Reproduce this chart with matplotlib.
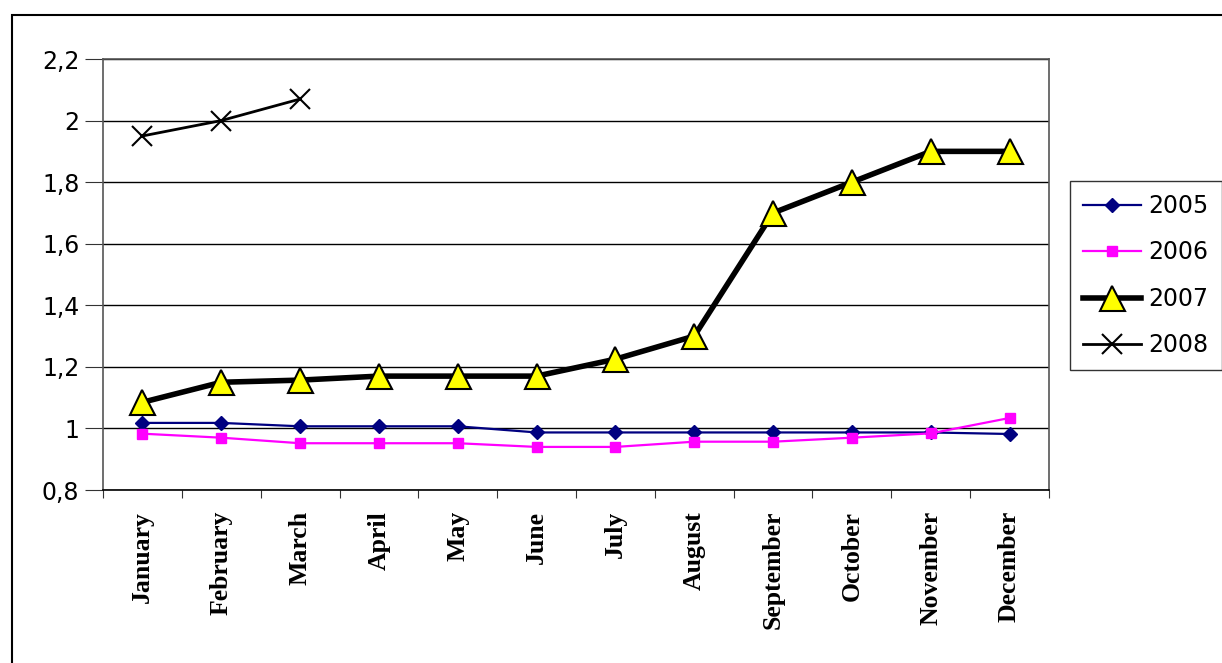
import matplotlib
matplotlib.use("Agg")
import matplotlib.pyplot as plt
from matplotlib.patches import Rectangle

months = ["January", "February", "March", "April", "May", "June", "July",
          "August", "September", "October", "November", "December"]
y2005 = [1.018, 1.018, 1.007, 1.007, 1.007, 0.987, 0.987, 0.987, 0.987, 0.987, 0.987, 0.982]
y2006 = [0.983, 0.970, 0.952, 0.952, 0.952, 0.940, 0.940, 0.957, 0.957, 0.970, 0.984, 1.034]
y2007 = [1.085, 1.150, 1.157, 1.170, 1.170, 1.170, 1.225, 1.300, 1.700, 1.800, 1.900, 1.900]
y2008 = [1.950, 2.000, 2.070]
y_ticks = [0.8, 1.0, 1.2, 1.4, 1.6, 1.8, 2.0, 2.2]
y_tick_labels = ["0,8", "1", "1,2", "1,4", "1,6", "1,8", "2", "2,2"]
title = "Development of average monthly price index (EUR/kg)"

fig = plt.figure(figsize=(12.22, 6.63), dpi=100)
ax = fig.add_axes([0.0843, 0.2609, 0.7741, 0.6501])

x = list(range(len(months)))
for yv in y_ticks:
    ax.axhline(yv, color="black", lw=1, zorder=1)

ax.plot(x, y2005, color="#000080", lw=1.6, marker="D", ms=7,
        mfc="#000080", mec="#000080", label="2005", zorder=3)
ax.plot(x, y2006, color="#ff00ff", lw=1.6, marker="s", ms=7.5,
        mfc="#ff00ff", mec="#ff00ff", label="2006", zorder=3)
ax.plot(x, y2007, color="black", lw=4, marker="^", ms=18,
        mfc="#ffff00", mec="black", mew=1.5, label="2007", zorder=4)
ax.plot(x[:len(y2008)], y2008, color="black", lw=2, marker="x", ms=15,
        mew=1.5, label="2008", zorder=4)

ax.set_xlim(-0.5, 11.5)
ax.set_ylim(0.8, 2.2)
ax.set_yticks(y_ticks)
ax.set_yticklabels(y_tick_labels, fontsize=17, family="DejaVu Sans")
ax.set_xticks([i - 0.5 for i in range(len(months) + 1)])
ax.set_xticklabels([])
ax.set_xticks(x, minor=True)
ax.set_xticklabels(months, minor=True, rotation=90, fontsize=18.5,
                   family="Liberation Serif", fontweight="bold")
ax.tick_params(axis="x", which="major", length=6, direction="out", color="#333333")
ax.tick_params(axis="x", which="minor", length=0, pad=15)
ax.tick_params(axis="y", length=13, direction="out", color="#333333", pad=4)
for s in ax.spines.values():
    s.set_color("#555555")
    s.set_linewidth(1.2)
ax.spines["bottom"].set_color("black")

leg = ax.legend(loc="upper left", bbox_to_anchor=(0.876, 0.727),
                bbox_transform=fig.transFigure, frameon=True, fancybox=False,
                prop={"family": "DejaVu Sans", "size": 17},
                handlelength=2.45, labelspacing=0.95, borderpad=0.55,
                handletextpad=0.3, borderaxespad=0)
leg.get_frame().set_edgecolor("black")
leg.get_frame().set_linewidth(1)

# outer chart border, clipped at the bottom and right
fig.patches.append(Rectangle((12 / 1222, -0.1), 1.2, 1 - 15 / 663 + 0.1,
                             transform=fig.transFigure, fill=False,
                             edgecolor="black", lw=1.5))

# title sits above the visible area; only its descenders show
fig.text(0.5, 1.0 + 7 / 663, title, ha="center", va="baseline", fontsize=22,
         family="Liberation Serif", fontweight="bold")

fig.savefig("out.png", dpi=100)
